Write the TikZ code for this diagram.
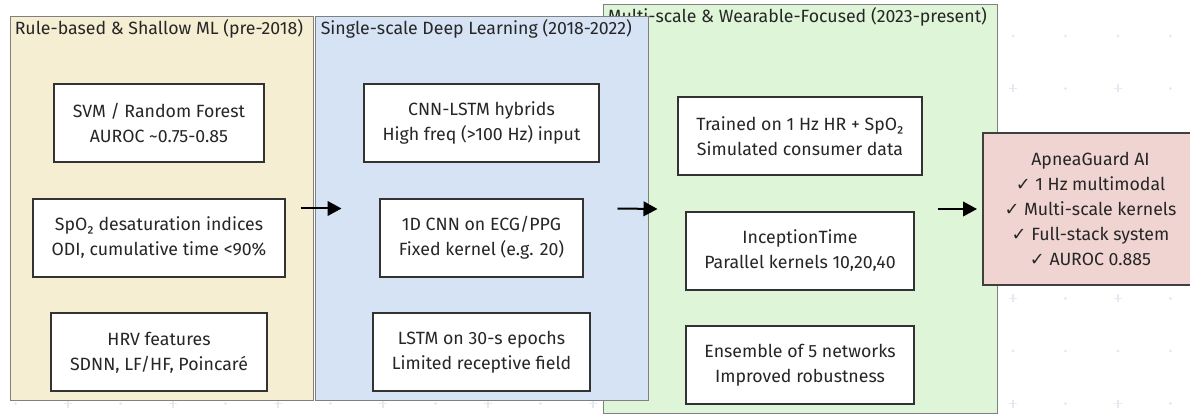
\documentclass[tikz,border=0pt]{standalone}
\usepackage{fontspec}
\setmainfont{Fira Sans}
\newfontfamily\checkfont{DejaVu Sans}
\usetikzlibrary{positioning,arrows.meta}
\definecolor{eraTan}{RGB}{245,238,211}
\definecolor{eraBlue}{RGB}{214,227,245}
\definecolor{eraGreen}{RGB}{222,245,216}
\definecolor{goalRed}{RGB}{240,212,210}
\definecolor{gridMark}{RGB}{226,235,241}
\newcommand{\chk}{{\checkfont\char"2713}~}

\begin{document}
\begin{tikzpicture}[x=0.75pt, y=-0.75pt,
            every node/.style={font=\fontsize{13.3pt}{18.75pt}\selectfont},
            era/.style={draw=black!50, line width=0.75pt, rectangle, inner sep=0pt},
            eratitle/.style={anchor=base west, inner sep=0pt, text=black!85},
            box/.style={draw=black!80, line width=1.5pt, fill=white, rectangle, align=center, minimum height=58.5pt, inner xsep=14pt, text=black!85},
            goal/.style={draw=black!75, line width=1.5pt, fill=goalRed, rectangle, align=center, minimum height=114pt, minimum width=161.25pt, text=black!85},
            arrow/.style={-{Triangle[length=10.5pt,width=11pt]}, line width=1.5pt}
        ]
            \useasboundingbox (0,0) rectangle (1190,417);
            % faint background grid
            \foreach \i in {-1,...,21} {
                \foreach \j in {0,...,7} {
                    \pgfmathsetmacro{\gx}{68+52.5*\i}
                    \pgfmathsetmacro{\gy}{36+52.5*\j}
                    \pgfmathtruncatemacro{\isplus}{(mod(\j,2)==1)&&(mod(\i+2,2)==0)}
                    \ifnum\isplus=1
                        \draw[gridMark, line width=1.2pt] (\gx-4,\gy) -- (\gx+4,\gy) (\gx,\gy-4) -- (\gx,\gy+4);
                    \else
                        \fill[gridMark] (\gx,\gy) circle (1.3pt);
                    \fi
                }
            }

            % eras
            \node (era3) [era, fill=eraGreen, minimum width=295.5pt, minimum height=306pt] at (800,209) {};
            \node (era3title) [eratitle] at ([shift={(5,18)}]era3.north west) {Multi-scale \& Wearable-Focused (2023-present)};
            \node (era2) [era, fill=eraBlue, minimum width=249.75pt, minimum height=287.25pt] at (481.5,208.5) {};
            \node (era2title) [eratitle] at ([shift={(6,18)}]era2.north west) {Single-scale Deep Learning (2018-2022)};
            \node (era1) [era, fill=eraTan, minimum width=227.25pt, minimum height=287.25pt] at (161.5,208.5) {};
            \node (era1title) [eratitle] at ([shift={(5,18)}]era1.north west) {Rule-based \& Shallow ML (pre-2018)};

            % rule-based
            \node (svm) [box] at (159,123) {SVM / Random Forest\\AUROC \textasciitilde0.75-0.85};
            \node (spo) [box, below=26pt of svm] {SpO₂ desaturation indices\\ODI, cumulative time <90\%};
            \node (hrv) [box, below=26pt of spo] {HRV features\\SDNN, LF/HF, Poincaré};

            % single-scale
            \node (cnnlstm) [box] at (481.5,123) {CNN-LSTM hybrids\\High freq (>100 Hz) input};
            \node (cnn) [box, below=26pt of cnnlstm] {1D CNN on ECG/PPG\\Fixed kernel (e.g. 20)};
            \node (lstm) [box, below=26pt of cnn] {LSTM on 30-s epochs\\Limited receptive field};

            % multi-scale
            \node (trained) [box] at (800,136) {Trained on 1 Hz HR + SpO₂\\Simulated consumer data};
            \node (incep) [box, below=26pt of trained] {InceptionTime\\Parallel kernels 10,20,40};
            \node (ensemble) [box, below=26pt of incep] {Ensemble of 5 networks\\Improved robustness};

            \node (apnea) [goal] at (1090.5,209) {ApneaGuard AI\\\chk 1 Hz multimodal\\\chk Multi-scale kernels\\\chk Full-stack system\\\chk AUROC 0.885};

            \draw [arrow] ([xshift=-9.75pt]era1.east) -- ([xshift=20.25pt]era2.west);
            \draw [arrow] ([xshift=-23.25pt]era2.east) -- ([xshift=41.25pt]era3.west);
            \draw [arrow] ([xshift=-45pt]era3.east) -- ([xshift=-3.75pt]apnea.west);
        \end{tikzpicture}
\end{document}
